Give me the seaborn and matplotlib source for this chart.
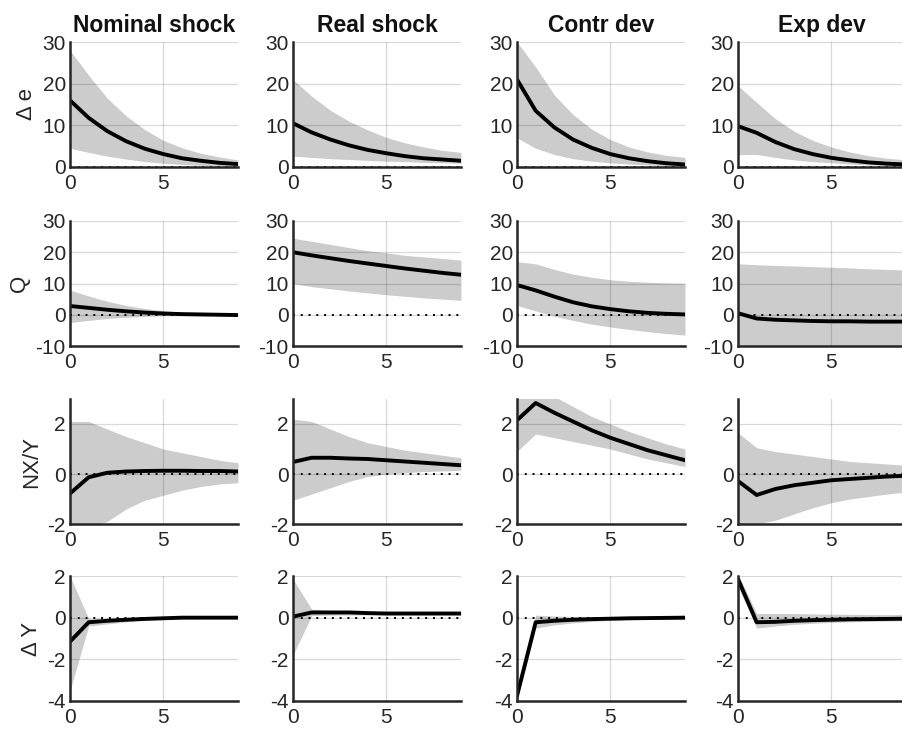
import matplotlib

matplotlib.use("Agg")

import matplotlib.pyplot as plt
import numpy as np
import pandas as pd
import seaborn as sns

# horizons and labels
HORIZON = list(range(10))
SHOCKS = ["Nominal shock", "Real shock", "Contr dev", "Exp dev"]
VARIABLES = ["\u0394 e", "Q", "NX/Y", "\u0394 Y"]

# rows: Nominal shock, Real shock, Contr dev, Exp dev
DE_MED = [
    [16, 11.8, 8.6, 6.2, 4.4, 3.1, 2.1, 1.5, 1.0, 0.7],
    [10.5, 8.3, 6.6, 5.2, 4.1, 3.3, 2.6, 2.1, 1.8, 1.5],
    [21, 13.5, 9.5, 6.6, 4.6, 3.1, 2.1, 1.4, 0.9, 0.6],
    [9.8, 8.2, 6.0, 4.3, 3.1, 2.2, 1.6, 1.1, 0.8, 0.6],
]
DE_LO = [
    [4.5, 3.5, 2.6, 1.9, 1.3, 0.9, 0.6, 0.4, 0.3, 0.2],
    [2.6, 2.3, 2.0, 1.8, 1.6, 1.4, 1.3, 1.1, 1.0, 0.9],
    [7, 4.5, 3.0, 2.0, 1.4, 1.0, 0.7, 0.5, 0.3, 0.2],
    [3, 3, 2.3, 1.7, 1.3, 1.0, 0.7, 0.5, 0.4, 0.3],
]
DE_HI = [
    [28, 22, 16.5, 12.3, 9.0, 6.4, 4.6, 3.3, 2.4, 1.7],
    [21, 17, 13.6, 11, 8.9, 7.1, 5.8, 4.8, 4.0, 3.5],
    [30, 24, 17.3, 12.6, 9.1, 6.6, 4.8, 3.6, 2.8, 2.3],
    [19.5, 15.5, 11.6, 8.6, 6.4, 4.8, 3.6, 2.7, 2.1, 1.7],
]

Q_MED = [
    [2.8, 2.2, 1.6, 1.1, 0.7, 0.4, 0.2, 0.1, 0.0, -0.1],
    [20, 19, 18.1, 17.2, 16.4, 15.6, 14.8, 14.1, 13.4, 12.8],
    [9.5, 7.8, 5.8, 4.0, 2.7, 1.8, 1.1, 0.6, 0.3, 0.1],
    [0.5, -1.2, -1.6, -1.8, -2.0, -2.1, -2.1, -2.2, -2.2, -2.2],
]
Q_LO = [
    [-2.5, -1.8, -1.2, -0.8, -0.5, -0.3, -0.3, -0.3, -0.3, -0.3],
    [10, 9, 8.3, 7.6, 7, 6.4, 5.9, 5.4, 5.0, 4.6],
    [3, 1.2, -0.5, -1.8, -3.0, -3.9, -4.7, -5.4, -6.0, -6.5],
    [-11, -11, -11, -11, -11, -11, -11, -11, -11, -11],
]
Q_HI = [
    [7.9, 6, 4.3, 3, 2, 1.3, 0.8, 0.5, 0.3, 0.2],
    [24.5, 23.5, 22.5, 21.5, 20.5, 19.8, 19, 18.5, 18, 17.5],
    [17, 16.3, 14.5, 13, 12, 11.2, 10.7, 10.4, 10.2, 10.1],
    [16.3, 16, 15.8, 15.6, 15.4, 15.2, 15, 14.7, 14.5, 14.3],
]

NX_MED = [
    [-0.78, -0.13, 0.05, 0.1, 0.12, 0.13, 0.13, 0.12, 0.12, 0.1],
    [0.48, 0.65, 0.65, 0.62, 0.6, 0.55, 0.5, 0.45, 0.4, 0.35],
    [2.15, 2.84, 2.45, 2.1, 1.75, 1.45, 1.2, 0.95, 0.75, 0.55],
    [-0.28, -0.84, -0.6, -0.45, -0.35, -0.25, -0.2, -0.15, -0.1, -0.07],
]
NX_LO = [
    [-2.1, -2.1, -1.9, -1.4, -1.05, -0.85, -0.65, -0.5, -0.4, -0.35],
    [-1.05, -0.8, -0.55, -0.3, -0.1, 0.0, 0.05, 0.1, 0.12, 0.15],
    [0.9, 1.6, 1.45, 1.3, 1.15, 1.0, 0.8, 0.6, 0.45, 0.3],
    [-2.1, -2.0, -1.85, -1.6, -1.35, -1.15, -1.0, -0.9, -0.8, -0.72],
]
NX_HI = [
    [2.1, 2.1, 1.8, 1.5, 1.25, 1.0, 0.85, 0.7, 0.55, 0.45],
    [2.2, 2.1, 1.8, 1.5, 1.25, 1.1, 0.95, 0.85, 0.75, 0.65],
    [3.5, 3.6, 3.1, 2.7, 2.3, 2.0, 1.7, 1.45, 1.2, 1.0],
    [1.65, 1.05, 0.9, 0.8, 0.7, 0.6, 0.5, 0.45, 0.4, 0.35],
]

DY_MED = [
    [-1.15, -0.22, -0.15, -0.1, -0.06, -0.03, 0.0, 0.0, 0.0, 0.0],
    [0.05, 0.25, 0.25, 0.25, 0.22, 0.2, 0.2, 0.2, 0.2, 0.2],
    [-3.75, -0.22, -0.15, -0.1, -0.07, -0.05, -0.03, -0.02, -0.01, 0.0],
    [1.85, -0.22, -0.2, -0.15, -0.12, -0.1, -0.08, -0.07, -0.06, -0.05],
]
DY_LO = [
    [-3.5, -0.4, -0.3, -0.2, -0.12, -0.08, -0.05, -0.04, -0.03, -0.03],
    [-1.8, 0.1, 0.12, 0.13, 0.13, 0.13, 0.13, 0.13, 0.13, 0.13],
    [-4.0, -0.5, -0.35, -0.25, -0.18, -0.13, -0.1, -0.08, -0.07, -0.06],
    [1.5, -0.5, -0.4, -0.32, -0.27, -0.23, -0.2, -0.18, -0.16, -0.15],
]
DY_HI = [
    [2.0, -0.05, -0.05, -0.03, 0.0, 0.02, 0.03, 0.03, 0.03, 0.03],
    [1.85, 0.4, 0.35, 0.33, 0.3, 0.28, 0.27, 0.26, 0.25, 0.25],
    [-3.4, 0.12, 0.08, 0.06, 0.05, 0.05, 0.05, 0.05, 0.05, 0.05],
    [2.1, 0.2, 0.2, 0.2, 0.18, 0.17, 0.16, 0.15, 0.15, 0.15],
]

YLIMS = [(0, 30), (-10, 30), (-2, 3), (-4, 2)]
YTICKS = [[0, 10, 20, 30], [-10, 0, 10, 20, 30], [-2, 0, 2], [-4, -2, 0, 2]]

MEDS = [DE_MED, Q_MED, NX_MED, DY_MED]
LOS = [DE_LO, Q_LO, NX_LO, DY_LO]
HIS = [DE_HI, Q_HI, NX_HI, DY_HI]

# panel placement in pixels (figure is 902 x 729)
COL_LEFT = [70, 293, 517, 738]
ROW_TOP = [42, 221, 399, 576]
PANEL_W = 168
PANEL_H = 125

sns.set_theme(style="white")
plt.rcParams["font.family"] = ["Liberation Sans", "DejaVu Sans"]
plt.rcParams["axes.unicode_minus"] = False

TXT = "#262626"
fig = plt.figure(figsize=(9.02, 7.29), dpi=100)

for r in range(4):
    for c in range(4):
        ax = fig.add_axes([
            COL_LEFT[c] / 902,
            1 - (ROW_TOP[r] + PANEL_H) / 729,
            PANEL_W / 902,
            PANEL_H / 729,
        ])
        df = pd.DataFrame({
            "h": HORIZON,
            "med": MEDS[r][c],
            "lo": LOS[r][c],
            "hi": HIS[r][c],
        })
        ax.fill_between(df["h"], df["lo"], df["hi"], color="#cccccc", lw=0, zorder=1)
        ax.axhline(0, color="black", ls=(0, (1, 3)), lw=1.4, zorder=2)
        sns.lineplot(data=df, x="h", y="med", color="black", lw=2.8, ax=ax, zorder=3)

        ax.set_xlim(0, 9)
        ax.set_ylim(*YLIMS[r])
        ax.set_xticks([0, 5])
        ax.set_yticks(YTICKS[r])
        ax.grid(True, color="black", alpha=0.15, lw=0.9)
        ax.set_axisbelow(False)
        for s in ["top", "right"]:
            ax.spines[s].set_visible(False)
        for s in ["left", "bottom"]:
            ax.spines[s].set_color(TXT)
            ax.spines[s].set_linewidth(1.8)
            ax.spines[s].set_zorder(4)
        ax.tick_params(axis="both", direction="in", length=0, labelsize=15,
                       labelcolor=TXT)
        ax.tick_params(axis="x", pad=5)
        ax.tick_params(axis="y", pad=3)
        ax.set_xlabel("")
        ax.set_ylabel(VARIABLES[r] if c == 0 else "", fontsize=16, color=TXT, labelpad=4)
        if r == 0:
            ax.set_title(SHOCKS[c], fontsize=16.5, fontweight="bold", color="#111111", pad=7)

fig.savefig("out.png", dpi=100)
